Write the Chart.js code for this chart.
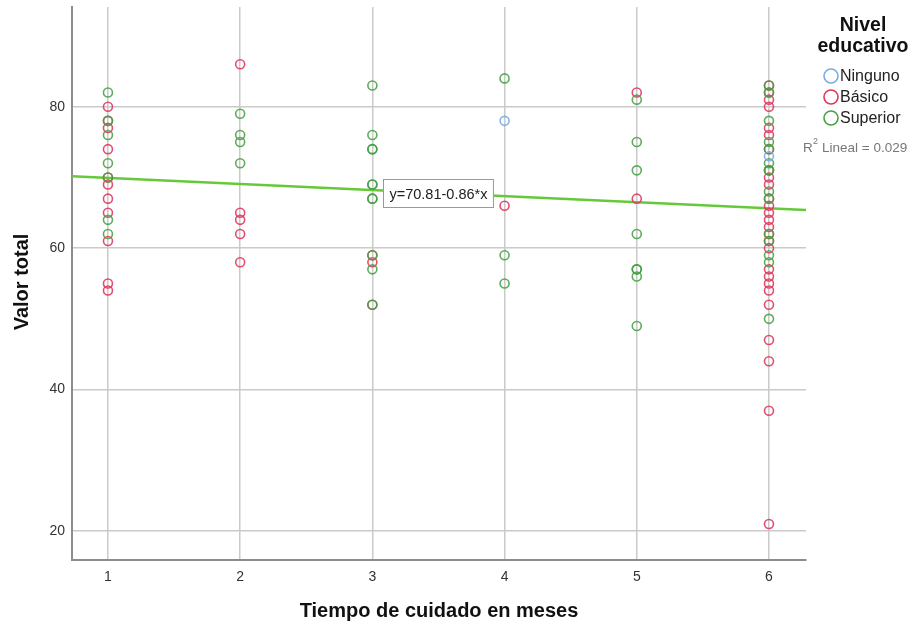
<!DOCTYPE html>
<html>
<head>
<meta charset="utf-8">
<title>Valor total vs Tiempo de cuidado</title>
<script src="https://cdn.jsdelivr.net/npm/chart.js@4/dist/chart.umd.min.js"></script>
<style>
  html, body { margin: 0; padding: 0; background: #fff; }
  #wrap { width: 915px; height: 626px; position: relative; }
</style>
</head>
<body>
<div id="wrap"><canvas id="chart" width="915" height="626"></canvas></div>
<script>
// Scatter of "Valor total" by months of care, grouped by education level.
const xTicks = [1, 2, 3, 4, 5, 6];
const yTicks = [20, 40, 60, 80];

// points per group as [months, total]
const ninguno = [[4, 78], [6, 73]];
const basico = [
  [1, 80], [1, 78], [1, 77], [1, 74], [1, 70], [1, 69], [1, 67], [1, 65], [1, 61], [1, 55], [1, 54],
  [2, 86], [2, 65], [2, 64], [2, 62], [2, 58],
  [3, 59], [3, 58], [3, 52],
  [4, 66],
  [5, 82], [5, 67],
  [6, 83], [6, 82], [6, 81], [6, 80], [6, 77], [6, 76], [6, 74], [6, 71], [6, 70], [6, 69], [6, 67],
  [6, 66], [6, 65], [6, 64], [6, 63], [6, 62], [6, 61], [6, 60], [6, 57], [6, 56], [6, 55], [6, 54],
  [6, 52], [6, 47], [6, 44], [6, 37], [6, 21],
];
const superior = [
  [1, 82], [1, 78], [1, 76], [1, 72], [1, 70], [1, 64], [1, 62],
  [2, 79], [2, 76], [2, 75], [2, 72],
  [3, 83], [3, 76], [3, 74], [3, 74], [3, 69], [3, 69], [3, 67], [3, 67], [3, 59], [3, 57], [3, 52],
  [4, 84], [4, 59], [4, 55],
  [5, 81], [5, 75], [5, 71], [5, 62], [5, 57], [5, 57], [5, 56], [5, 49],
  [6, 83], [6, 82], [6, 78], [6, 75], [6, 74], [6, 72], [6, 71], [6, 71], [6, 68], [6, 67],
  [6, 62], [6, 61], [6, 59], [6, 58], [6, 50],
];

// linear fit shown on the chart
const fitIntercept = 70.81;
const fitSlope = -0.86;
const fitLabel = 'y=70.81-0.86*x';
const r2Label = 'Lineal = 0.029';

const X_MIN = 0.728, X_MAX = 6.28, Y_MIN = 15.9, Y_MAX = 94.1;

const COLORS = { ninguno: '#7aa8e6', basico: '#e0355c', superior: '#47a044', fit: '#66c93a' };
const FONT = '"Liberation Sans", Arial, sans-serif';

const toPts = (arr) => arr.map(([x, y]) => ({ x, y }));
const pointDs = (label, arr, color) => ({
  type: 'scatter', label, data: toPts(arr),
  borderColor: color + 'e0', backgroundColor: 'transparent',
  pointRadius: 4.5, pointBorderWidth: 1.6, pointHoverRadius: 4.5,
});

// axis titles, legend and fit label box
const decor = {
  id: 'decor',
  afterDraw(chart) {
    const { ctx, scales: { x, y } } = chart;
    ctx.save();
    ctx.fillStyle = '#111';
    ctx.textAlign = 'center';
    ctx.textBaseline = 'middle';
    ctx.font = `bold 20px ${FONT}`;
    ctx.fillText('Tiempo de cuidado en meses', 439, 611);
    ctx.save();
    ctx.translate(22, 282);
    ctx.rotate(-Math.PI / 2);
    ctx.fillText('Valor total', 0, 0);
    ctx.restore();

    // legend
    ctx.font = `bold 19.5px ${FONT}`;
    ctx.fillText('Nivel', 863, 26);
    ctx.fillText('educativo', 863, 47);
    const items = [['Ninguno', COLORS.ninguno], ['Básico', COLORS.basico], ['Superior', COLORS.superior]];
    ctx.textAlign = 'left';
    ctx.font = `16px ${FONT}`;
    items.forEach(([t, c], i) => {
      const cy = 76 + i * 21;
      ctx.beginPath();
      ctx.arc(831, cy, 7, 0, Math.PI * 2);
      ctx.strokeStyle = c;
      ctx.lineWidth = 1.6;
      ctx.stroke();
      ctx.fillStyle = '#222';
      ctx.fillText(t, 840, cy + 1);
    });
    ctx.fillStyle = '#777';
    ctx.font = `13.5px ${FONT}`;
    ctx.fillText('R', 803, 148);
    ctx.font = `9px ${FONT}`;
    ctx.fillText('2', 813, 142);
    ctx.font = `13.5px ${FONT}`;
    ctx.fillText(r2Label, 822, 148);

    // fit equation box
    ctx.font = `14.5px ${FONT}`;
    const w = ctx.measureText(fitLabel).width + 12;
    const bx = Math.round(x.getPixelForValue(3.08)) + 0.5;
    const by = Math.round(y.getPixelForValue(67.75) - 14) + 0.5;
    ctx.fillStyle = '#fff';
    ctx.fillRect(bx, by, w, 28);
    ctx.strokeStyle = '#999';
    ctx.lineWidth = 1;
    ctx.strokeRect(bx, by, w, 28);
    ctx.fillStyle = '#222';
    ctx.fillText(fitLabel, bx + 6, by + 15);
    ctx.restore();
  },
};

new Chart(document.getElementById('chart'), {
  data: {
    datasets: [
      pointDs('Ninguno', ninguno, COLORS.ninguno),
      pointDs('Superior', superior, COLORS.superior),
      pointDs('Básico', basico, COLORS.basico),
      {
        type: 'line', label: 'fit',
        data: [X_MIN, X_MAX].map((v) => ({ x: v, y: fitIntercept + fitSlope * v })),
        borderColor: COLORS.fit, borderWidth: 2.5, pointRadius: 0, fill: false,
      },
    ],
  },
  options: {
    responsive: false,
    animation: false,
    layout: { padding: { top: 7, right: 109, left: 0, bottom: 0 } },
    plugins: { legend: { display: false }, tooltip: { enabled: false } },
    scales: {
      x: {
        type: 'linear', min: X_MIN, max: X_MAX,
        afterBuildTicks: (s) => { s.ticks = xTicks.map((v) => ({ value: v })); },
        afterFit: (s) => { s.height = 66; s.paddingLeft = 0; s.paddingRight = 0; },
        grid: { color: '#cacaca', lineWidth: 1.5, drawTicks: false },
        border: { color: '#8c8c8c', width: 2 },
        ticks: { color: '#333', font: { family: FONT, size: 14 }, padding: 9 },
      },
      y: {
        type: 'linear', min: Y_MIN, max: Y_MAX,
        afterBuildTicks: (s) => { s.ticks = yTicks.map((v) => ({ value: v })); },
        afterFit: (s) => { s.width = 72; s.paddingTop = 0; s.paddingBottom = 0; },
        grid: { color: '#cacaca', lineWidth: 1.5, drawTicks: false },
        border: { color: '#8c8c8c', width: 2 },
        ticks: { color: '#333', font: { family: FONT, size: 14 }, padding: 7 },
      },
    },
  },
  plugins: [decor],
});
</script>
</body>
</html>
